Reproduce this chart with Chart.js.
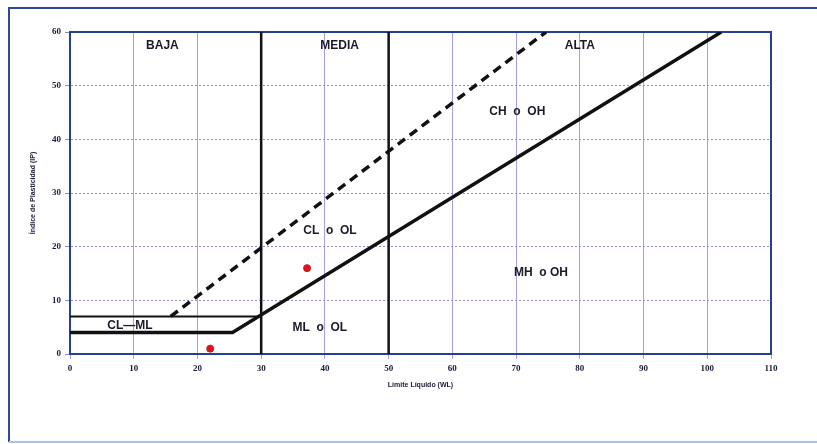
<!DOCTYPE html>
<html>
<head>
<meta charset="utf-8">
<script src="https://cdn.jsdelivr.net/npm/chart.js@4/dist/chart.umd.min.js"></script>
<style>
  html, body { margin: 0; padding: 0; background: #fff; }
  #wrap { width: 817px; height: 444px; position: relative; }
</style>
</head>
<body>
<div id="wrap"><canvas id="plasticity" width="817" height="444"></canvas></div>
<script>
// Carta de plasticidad - data
var aLineX = [0, 25.5, 102.2];
var aLineY = [4, 4, 60];
var clmlTopX = [0, 29.6];
var clmlTopY = [7, 7];
var uLineX = [15.8, 74.7];
var uLineY = [7, 60];
var limit30X = [30, 30];
var limit50X = [50, 50];
var limitY = [0, 60];
var sampleX = [22, 37.2];
var sampleY = [1, 16];

var zoneText = ["BAJA", "MEDIA", "ALTA", "CH  o  OH", "CL  o  OL", "MH  o OH", "ML  o  OL", "CL\u2014ML"];
var zoneX = [14.5, 42.3, 80, 70.2, 40.8, 73.9, 39.2, 9.4];
var zoneY = [57.4, 57.4, 57.4, 45.2, 23, 15.2, 4.9, 5.2];

function toPoints(xs, ys)
{
    var pts = [];
    for (var i = 0; i < xs.length; i++) {
        pts.push({x: xs[i], y: ys[i]});
    }
    return pts;
}

var lineStyle = function(xs, ys, width, dash)
{
    return {
        type: "line",
        data: toPoints(xs, ys),
        borderColor: "#111111",
        borderWidth: width,
        borderDash: dash || [],
        pointRadius: 0,
        fill: false,
        tension: 0
    };
};

// frame round the whole figure and box round the plot
var framePlugin = {
    id: "frame",
    beforeDraw: function(chart) {
        var ctx = chart.ctx;
        ctx.save();
        ctx.strokeStyle = "#2a4a9c";
        ctx.lineWidth = 2;
        ctx.beginPath();
        ctx.moveTo(817, 8);
        ctx.lineTo(9, 8);
        ctx.lineTo(9, 442);
        ctx.stroke();
        ctx.strokeStyle = "#a9c4e8";
        ctx.beginPath();
        ctx.moveTo(9, 442);
        ctx.lineTo(817, 442);
        ctx.stroke();
        ctx.restore();
    },
    beforeDatasetsDraw: function(chart) {
        var a = chart.chartArea, ctx = chart.ctx;
        ctx.save();
        ctx.strokeStyle = "#24408f";
        ctx.lineWidth = 2;
        ctx.strokeRect(a.left, a.top, a.right - a.left, a.bottom - a.top);
        ctx.restore();
    }
};

// zone names written inside the chart
var zonePlugin = {
    id: "zones",
    afterDatasetsDraw: function(chart) {
        var ctx = chart.ctx;
        var xs = chart.scales.x, ys = chart.scales.y;
        ctx.save();
        ctx.font = "bold 12px 'Liberation Sans', Arial, sans-serif";
        ctx.fillStyle = "#1a1a2a";
        ctx.textAlign = "center";
        ctx.textBaseline = "middle";
        for (var i = 0; i < zoneText.length; i++) {
            ctx.fillText(zoneText[i], xs.getPixelForValue(zoneX[i]), ys.getPixelForValue(zoneY[i]));
        }
        ctx.restore();
    }
};

var datasets = [
    lineStyle(aLineX, aLineY, 3.5),
    lineStyle(clmlTopX, clmlTopY, 2),
    lineStyle(uLineX, uLineY, 3.5, [9, 6]),
    lineStyle(limit30X, limitY, 2.5),
    lineStyle(limit50X, limitY, 2.5),
    {
        type: "scatter",
        data: toPoints(sampleX, sampleY),
        backgroundColor: "#d8141c",
        borderColor: "#d8141c",
        pointRadius: 3.5
    }
];

new Chart(document.getElementById("plasticity"), {
    type: "scatter",
    data: {datasets: datasets},
    options: {
        responsive: false,
        animation: false,
        layout: { padding: {left: 0, top: 32, right: 46, bottom: 0} },
        plugins: {
            legend: { display: false },
            tooltip: { enabled: false }
        },
        scales: {
            x: {
                type: "linear",
                min: 0,
                max: 110,
                ticks: {
                    stepSize: 10,
                    color: "#1a1a3a",
                    padding: 4,
                    font: { family: "'Liberation Serif', serif", size: 9, weight: "bold" }
                },
                grid: { color: "#a8a0dc", lineWidth: 1, tickLength: 5 },
                border: { color: "#24408f", width: 2 },
                title: {
                    display: true,
                    text: "L\u00edmite L\u00edquido (WL)",
                    color: "#1a1a3a",
                    padding: { top: 0, bottom: 55 },
                    font: { family: "'Liberation Sans', Arial, sans-serif", size: 7, weight: "bold" }
                },
                afterFit: function(scale) { scale.height = 90; }
            },
            y: {
                type: "linear",
                min: 0,
                max: 60,
                ticks: {
                    stepSize: 10,
                    color: "#1a1a3a",
                    padding: 4,
                    font: { family: "'Liberation Serif', serif", size: 9, weight: "bold" }
                },
                grid: { color: "#8c8cc8", lineWidth: 1, tickLength: 5 },
                border: { color: "#24408f", width: 2, dash: [2, 2] },
                title: {
                    display: true,
                    text: "\u00cdndice de Plasticidad (IP)",
                    color: "#1a1a3a",
                    padding: { top: 29, bottom: 0 },
                    font: { family: "'Liberation Sans', Arial, sans-serif", size: 7, weight: "bold" }
                },
                afterFit: function(scale) { scale.width = 70; }
            }
        }
    },
    plugins: [framePlugin, zonePlugin]
});
</script>
</body>
</html>
